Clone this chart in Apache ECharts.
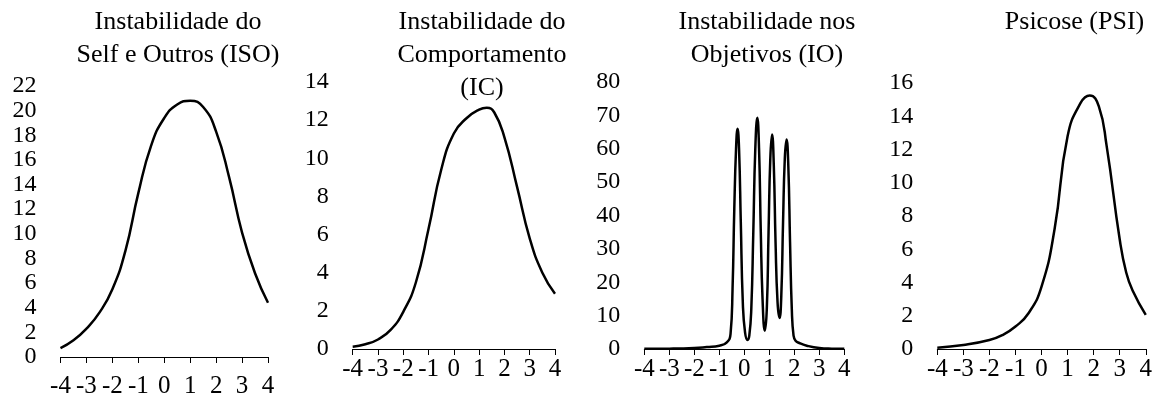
<!DOCTYPE html>
<html>
<head>
<meta charset="utf-8">
<script src="https://cdn.jsdelivr.net/npm/echarts@6/dist/echarts.min.js"></script>
<style>
  html, body { margin: 0; padding: 0; background: #fff; }
  #chart { width: 1155px; height: 399px; }
</style>
</head>
<body>
<div id="chart"></div>
<script>
// Instabilidade do Self e Outros (ISO)
const isoX = [-4, -3.5, -3, -2.5, -2, -1.5, -1, -0.5, 0, 0.5, 1, 1.5, 2, 2.5, 3, 3.5, 4];
const isoY = [0.72, 1.35, 2.3, 3.6, 5.5, 8.6, 13.3, 17.2, 19.4, 20.5, 20.8, 20.3, 18.3, 14.6, 10.1, 6.8, 4.4];

// Instabilidade do Comportamento (IC)
const icX = [-4, -3.5, -3, -2.5, -2, -1.5, -1, -0.5, 0, 0.5, 1, 1.3, 1.6, 2, 2.5, 3, 3.5, 4];
const icY = [0.12, 0.25, 0.5, 1.0, 1.95, 3.5, 6.3, 9.4, 11.3, 12.1, 12.55, 12.65, 12.4, 11.1, 8.5, 5.8, 4.0, 2.9];

// Instabilidade nos Objetivos (IO)
const ioX = [-4, -3, -2, -1.5, -1, -0.7, -0.55, -0.47, -0.4, -0.33, -0.27, -0.21, -0.14, -0.06, 0.03, 0.13,
             0.2, 0.28, 0.36, 0.44, 0.52, 0.59, 0.66, 0.73, 0.82,
             0.9, 0.97, 1.04, 1.11, 1.18, 1.25, 1.33, 1.41,
             1.48, 1.55, 1.62, 1.69, 1.76, 1.83, 1.9, 1.97, 2.05, 2.2, 2.5, 3, 3.5, 4];
const ioY = [0.05, 0.1, 0.3, 0.6, 1.0, 2.0, 4.5, 18, 42, 60, 66, 60, 38, 14, 5, 2.7,
             4, 12, 35, 60, 69.3, 60, 35, 15, 5.5,
             12, 35, 57, 64.3, 55, 32, 14, 9.3,
             16, 38, 57, 62.8, 55, 32, 12, 4, 2.5, 1.8, 1.0, 0.3, 0.1, 0.05];

// Psicose (PSI)
const psiX = [-4, -3, -2, -1.5, -1, -0.5, 0, 0.5, 1, 1.5, 1.85, 2.2, 2.5, 3, 3.25, 3.5, 4];
const psiY = [0.08, 0.24, 0.54, 0.84, 1.35, 2.15, 3.75, 7.2, 12.8, 14.8, 15.25, 14.6, 12.2, 6.6, 4.6, 3.5, 2.05];

const titles = [
  'Instabilidade do\nSelf e Outros (ISO)',
  'Instabilidade do\nComportamento\n(IC)',
  'Instabilidade nos\nObjetivos (IO)',
  'Psicose (PSI)'
];
const yMax = [22, 14, 80, 16];
const yStep = [2, 2, 10, 2];

const FONT = "'Liberation Serif', 'Times New Roman', serif";

const panels = [
  { x: isoX, y: isoY, grid: { left: 60.5, top: 86, width: 207.5, height: 273 }, labelMargin: 17, titleX: 178 },
  { x: icX, y: icY, grid: { left: 352.7, top: 82, width: 202.3, height: 267 }, labelMargin: 8, titleX: 482 },
  { x: ioX, y: ioY, grid: { left: 644.3, top: 82, width: 200, height: 267 }, labelMargin: 8, titleX: 767 },
  { x: psiX, y: psiY, grid: { left: 937.3, top: 83, width: 210.4, height: 266 }, labelMargin: 8, titleX: 1074.5 }
];

const chart = echarts.init(document.getElementById('chart'), null, { renderer: 'canvas' });

const option = {
  backgroundColor: '#fff',
  animation: false,
  grid: panels.map(p => Object.assign({ containLabel: false }, p.grid)),
  xAxis: panels.map((p, i) => ({
    gridIndex: i,
    type: 'value',
    min: -4,
    max: 4,
    interval: 1,
    axisLine: { show: true, onZero: false, lineStyle: { color: '#000', width: 1 } },
    axisTick: { show: true, inside: false, length: 6, lineStyle: { color: '#000' } },
    splitLine: { show: false },
    axisLabel: {
      color: '#000',
      fontFamily: FONT,
      fontSize: 25,
      margin: p.labelMargin,
      showMinLabel: true,
      showMaxLabel: true
    }
  })),
  yAxis: panels.map((p, i) => ({
    gridIndex: i,
    type: 'value',
    min: 0,
    max: yMax[i],
    interval: yStep[i],
    axisLine: { show: false },
    axisTick: { show: false },
    splitLine: { show: false },
    axisLabel: {
      color: '#000',
      fontFamily: FONT,
      fontSize: 24,
      margin: 24,
      showMinLabel: true,
      showMaxLabel: true,
      hideOverlap: false
    }
  })),
  series: panels.map((p, i) => ({
    type: 'line',
    xAxisIndex: i,
    yAxisIndex: i,
    data: p.x.map((v, k) => [v, p.y[k]]),
    smooth: 0.5,
    showSymbol: false,
    symbol: 'none',
    lineStyle: { color: '#000', width: 2.5 },
    silent: true
  })),
  graphic: panels.map((p, i) => ({
    type: 'text',
    x: p.titleX,
    y: 6,
    style: {
      text: titles[i],
      fill: '#000',
      font: '26px ' + FONT,
      align: 'center',
      textAlign: 'center',
      verticalAlign: 'top',
      textVerticalAlign: 'top',
      lineHeight: 33
    }
  }))
};

chart.setOption(option);
</script>
</body>
</html>
